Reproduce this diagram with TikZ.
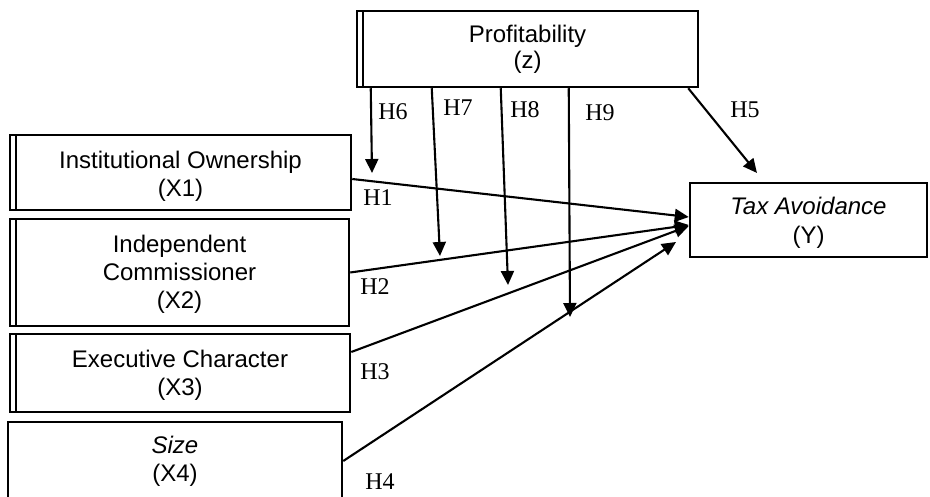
\documentclass[tikz,border=0pt]{standalone}
\usepackage{fontspec}
\setmainfont{Liberation Serif}
\newfontfamily\boxfont{Liberation Sans}
\usetikzlibrary{arrows.meta,calc}
\begin{document}
\begin{tikzpicture}[x=1pt,y=-1pt,
  varbox/.style={draw,line width=2.5pt,rectangle,inner sep=0pt,align=center,
    font=\boxfont\fontsize{24}{28}\selectfont},
  boxtext/.style={inner sep=0pt,align=center,
    font=\boxfont\fontsize{24}{28}\selectfont},
  leftrule/.style={path picture={\draw[line width=2pt]
    ([xshift=6pt]path picture bounding box.north west) --
    ([xshift=6pt]path picture bounding box.south west);}},
  link/.style={line width=2.1pt,-{Triangle[length=14pt,width=13pt]}},
  hyp/.style={font=\fontsize{24}{28}\selectfont,inner sep=0pt}]
\useasboundingbox (0,0) rectangle (930,497);

% variables
\node[varbox,leftrule,minimum width=341pt,minimum height=76pt,
  font=\boxfont\fontsize{24}{26}\selectfont] (z) at (527.5,49)
  {Profitability\\(z)};
\node[varbox,leftrule,minimum width=341pt,minimum height=75pt] (x1) at (180.5,172.5) {};
\node[boxtext] (x1text) at ([yshift=-4pt]x1.center) {Institutional Ownership\\(X1)};
\node[varbox,leftrule,minimum width=339pt,minimum height=107pt] (x2) at (179.5,272.5) {};
\node[boxtext] (x2text) at ([yshift=-2pt]x2.center) {Independent\\Commissioner\\(X2)};
\node[varbox,leftrule,minimum width=340pt,minimum height=78pt] (x3) at (180,373) {};
\node[boxtext] (x3text) at ([yshift=-2pt]x3.center) {Executive Character\\(X3)};
\node[varbox,minimum width=334pt,minimum height=78pt] (x4) at (175,461)
  {\textit{Size}\\(X4)};
\node[varbox,minimum width=237pt,minimum height=74pt] (y) at (808.5,220) {};
\node[boxtext,font=\boxfont\fontsize{24}{29}\selectfont] (ytext)
  at ([yshift=-3pt]y.center) {\textit{Tax Avoidance}\\(Y)};

% end points of the moderating paths, on the direct paths
\coordinate (m6) at (372,173);
\coordinate (m7) at (440,256);
\coordinate (m8) at (508,285);
\coordinate (m9) at (570,317);
\coordinate (t5) at (757,173);
\coordinate (t4) at (676,242);

% direct effects
\draw[link] ([yshift=-6.5pt]x1.east) -- ([yshift=3pt]y.west);
\draw[link] (x2.east) -- ([yshift=-5pt]y.west);
\draw[link] ([yshift=21pt]x3.east) -- ([yshift=-6pt]y.west);
\draw[link] (x4.east) -- (t4);
\draw[link] ([xshift=-11pt]z.south east) -- (t5);

% moderating effects
\draw[link] ([xshift=15pt]z.south west) -- (m6);
\draw[link] ([xshift=76pt]z.south west) -- (m7);
\draw[link] ([xshift=145pt]z.south west) -- (m8);
\draw[link] ([xshift=213pt]z.south west) -- (m9);

% hypothesis labels
\node[hyp] (h1) at (378,198) {H1};
\node[hyp] (h2) at (375,287) {H2};
\node[hyp] (h3) at (375,372) {H3};
\node[hyp] (h4) at (380,482) {H4};
\node[hyp] (h5) at (745,110) {H5};
\node[hyp] (h6) at (393,112) {H6};
\node[hyp] (h7) at (458,108) {H7};
\node[hyp] (h8) at (525,110) {H8};
\node[hyp] (h9) at (600,113) {H9};
\end{tikzpicture}
\end{document}
